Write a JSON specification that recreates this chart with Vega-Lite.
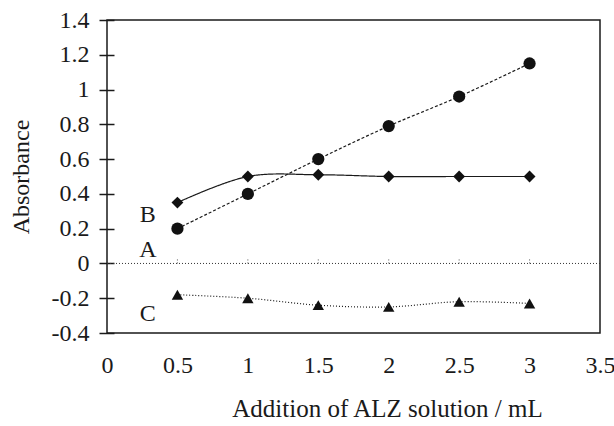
{
  "$schema": "https://vega.github.io/schema/vega-lite/v6.json",
  "width": 493,
  "height": 313,
  "autosize": "none",
  "padding": {"left": 107, "top": 20, "right": 14, "bottom": 93},
  "background": "white",
  "config": {
    "font": "Liberation Serif",
    "view": {"stroke": "#1a1a1a", "strokeWidth": 1.5},
    "text": {"font": "Liberation Serif"},
    "axis": {"labelFont": "Liberation Serif", "titleFont": "Liberation Serif", "labelColor": "#1a1a1a", "titleColor": "#1a1a1a", "labelFontSize": 24, "titleFontSize": 24, "titleFontWeight": "normal", "grid": false, "labelOverlap": false}
  },
  "datasets": {
    "series": [
      {"x": 0.5, "y": 0.2, "s": "A"},
      {"x": 1.0, "y": 0.4, "s": "A"},
      {"x": 1.5, "y": 0.6, "s": "A"},
      {"x": 2.0, "y": 0.79, "s": "A"},
      {"x": 2.5, "y": 0.96, "s": "A"},
      {"x": 3.0, "y": 1.15, "s": "A"},
      {"x": 0.5, "y": 0.35, "s": "B"},
      {"x": 1.0, "y": 0.5, "s": "B"},
      {"x": 1.5, "y": 0.51, "s": "B"},
      {"x": 2.0, "y": 0.5, "s": "B"},
      {"x": 2.5, "y": 0.5, "s": "B"},
      {"x": 3.0, "y": 0.5, "s": "B"},
      {"x": 0.5, "y": -0.18, "s": "C"},
      {"x": 1.0, "y": -0.2, "s": "C"},
      {"x": 1.5, "y": -0.24, "s": "C"},
      {"x": 2.0, "y": -0.25, "s": "C"},
      {"x": 2.5, "y": -0.22, "s": "C"},
      {"x": 3.0, "y": -0.23, "s": "C"}
    ],
    "labels": [
      {"x": 0.29, "y": 0.28, "t": "B"},
      {"x": 0.29, "y": 0.08, "t": "A"},
      {"x": 0.29, "y": -0.29, "t": "C"}
    ],
    "zero": [{"y": 0}],
    "xticks": [
      {"x": 0.5, "y": 0, "y2": 0.03},
      {"x": 1.0, "y": 0, "y2": 0.03},
      {"x": 1.5, "y": 0, "y2": 0.03},
      {"x": 2.0, "y": 0, "y2": 0.03},
      {"x": 2.5, "y": 0, "y2": 0.03},
      {"x": 3.0, "y": 0, "y2": 0.03}
    ]
  },
  "layer": [
    {
      "data": {"name": "series"},
      "mark": {"type": "line", "color": "#1a1a1a", "strokeWidth": 1.2, "interpolate": "catmull-rom"},
      "encoding": {
        "x": {"field": "x", "type": "quantitative", "scale": {"domain": [0, 3.5]},
          "axis": {
            "values": [0, 0.5, 1, 1.5, 2, 2.5, 3, 3.5], "format": "~g",
            "domain": false, "ticks": false, "labelPadding": 20, "labelFlush": false, "labelBound": false, "labelOverlap": false,
            "title": "Addition of ALZ solution / mL", "titleFontSize": 25, "titlePadding": 19, "titleX": 280
          }
        },
        "y": {"field": "y", "type": "quantitative", "scale": {"domain": [-0.4, 1.4]},
          "axis": {
            "values": [-0.4, -0.2, 0, 0.2, 0.4, 0.6, 0.8, 1, 1.2, 1.4],
            "tickCount": 10,
            "labelOverlap": false,
            "labelExpr": "datum.value < 0 ? '-' + format(-datum.value, '~g') : format(datum.value, '~g')",
            "domain": false, "offset": -7, "tickSize": 15, "tickColor": "#1a1a1a", "tickWidth": 1.5,
            "labelPadding": 10, "title": "Absorbance", "titleBaseline": "middle", "titleX": -93
          }
        },
        "detail": {"field": "s"},
        "strokeDash": {"field": "s", "type": "nominal", "legend": null,
          "scale": {"domain": ["A", "B", "C"], "range": [[3, 2], [1, 0], [1, 2]]}}
      }
    },
    {
      "data": {"name": "zero"},
      "mark": {"type": "rule", "color": "#333", "strokeWidth": 1, "strokeDash": [1, 2]},
      "encoding": {
        "y": {"field": "y", "type": "quantitative"}
      }
    },
    {
      "data": {"name": "xticks"},
      "mark": {"type": "rule", "color": "#555", "strokeWidth": 1, "strokeDash": [1, 2]},
      "encoding": {
        "x": {"field": "x", "type": "quantitative"},
        "y": {"field": "y", "type": "quantitative"},
        "y2": {"field": "y2"}
      }
    },
    {
      "data": {"name": "series"},
      "mark": {"type": "point", "filled": true, "color": "#111", "opacity": 1},
      "encoding": {
        "x": {"field": "x", "type": "quantitative"},
        "y": {"field": "y", "type": "quantitative"},
        "shape": {"field": "s", "type": "nominal", "legend": null,
          "scale": {"domain": ["A", "B", "C"], "range": ["circle", "diamond", "triangle-up"]}},
        "size": {"field": "s", "type": "nominal", "legend": null,
          "scale": {"domain": ["A", "B", "C"], "range": [150, 130, 190]}}
      }
    },
    {
      "data": {"name": "labels"},
      "mark": {"type": "text", "font": "Liberation Serif", "fontSize": 24, "color": "#1a1a1a", "align": "center", "baseline": "middle"},
      "encoding": {
        "x": {"field": "x", "type": "quantitative"},
        "y": {"field": "y", "type": "quantitative"},
        "text": {"field": "t"}
      }
    }
  ]
}
